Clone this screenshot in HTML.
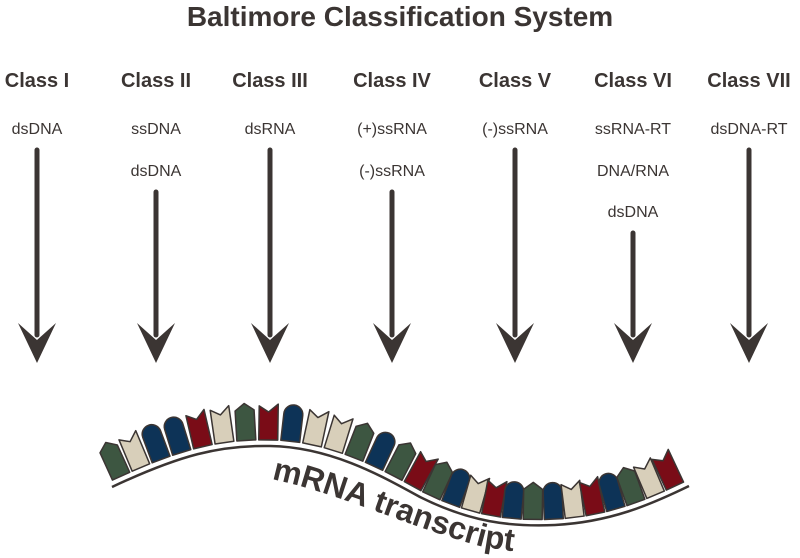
<!DOCTYPE html>
<html><head><meta charset="utf-8"><style>
html,body{margin:0;padding:0;background:#fff}
svg{display:block}
text{font-family:"Liberation Sans",Arial,sans-serif;fill:#3b3533}
.t{font-weight:bold;font-size:28px}
.c{font-weight:bold;font-size:20px}
.s{font-size:16px}
</style></head><body>
<svg id="s" width="800" height="558" viewBox="0 0 800 558" xmlns="http://www.w3.org/2000/svg">
<text class="t" x="400" y="26" text-anchor="middle">Baltimore Classification System</text>
<g text-anchor="middle">
<text class="c" x="37" y="87">Class I</text>
<text class="c" x="156" y="87">Class II</text>
<text class="c" x="270" y="87">Class III</text>
<text class="c" x="392" y="87">Class IV</text>
<text class="c" x="515" y="87">Class V</text>
<text class="c" x="633" y="87">Class VI</text>
<text class="c" x="749" y="87">Class VII</text>
<text class="s" x="37" y="134">dsDNA</text>
<text class="s" x="156" y="134">ssDNA</text>
<text class="s" x="156" y="176">dsDNA</text>
<text class="s" x="270" y="134">dsRNA</text>
<text class="s" x="392" y="134">(+)ssRNA</text>
<text class="s" x="392" y="176">(-)ssRNA</text>
<text class="s" x="515" y="134">(-)ssRNA</text>
<text class="s" x="633" y="134">ssRNA-RT</text>
<text class="s" x="633" y="176">DNA/RNA</text>
<text class="s" x="633" y="217">dsDNA</text>
<text class="s" x="749" y="134">dsDNA-RT</text>
</g>
<g id="arrows" fill="#3b3533" stroke="#3b3533"></g>
<g id="nts"></g>
<path id="bb" d="M112,487 C180,455 220,445 270,446 C330,447 380,475 420,497 C470,522 510,527 555,525 C610,522 650,505 689,486" fill="none" stroke="#3b3533" stroke-width="2.5"/>
<path id="tp" d="M180,478 C230,468 270,478 300,486 C360,503 420,530 480,546 C500,550 530,554 560,554" fill="none"/>
<text font-weight="bold" font-size="32"><textPath href="#tp" startOffset="92">mRNA transcript</textPath></text>
</svg>
<script>
var NS="http://www.w3.org/2000/svg";
var ar=document.getElementById('arrows');
[[37,150],[156,192],[270,150],[392,192],[515,150],[633,233],[749,150]].forEach(function(a){
 var x=a[0],y=a[1];
 var l=document.createElementNS(NS,'line');
 l.setAttribute('x1',x);l.setAttribute('x2',x);l.setAttribute('y1',y);l.setAttribute('y2',335);
 l.setAttribute('stroke-width','5');l.setAttribute('stroke-linecap','round');ar.appendChild(l);
 var p=document.createElementNS(NS,'path');
 p.setAttribute('d','M'+(x-19)+',323 L'+x+',340 L'+(x+19)+',323 L'+x+',363 Z');
 p.setAttribute('stroke','none');ar.appendChild(p);
});
var col={g:'#3d5641',b:'#d8cfba',n:'#0d3357',r:'#7a0c17'};
var seq='g b n n r b g r n b b g n g r g n b r n g n b r n g b r'.split(' ');
var bb=document.getElementById('bb'),L=bb.getTotalLength(),g=document.getElementById('nts');
var step=(L-4)/seq.length;
seq.forEach(function(c,i){
 var d=2+step*(i+0.5);
 var p=bb.getPointAtLength(d),p2=bb.getPointAtLength(Math.min(L,d+1)),p1=bb.getPointAtLength(Math.max(0,d-1));
 var ang=Math.atan2(p2.y-p1.y,p2.x-p1.x)*180/Math.PI;
 var sh;
 if(c=='n') sh='M-9.5,-6 L-9.5,-33 A9.5,9.5 0 0 1 9.5,-33 L9.5,-6 Z';
 else if(c=='g') sh='M-9.5,-6 L-9.5,-36 L0,-43 L9.5,-36 L9.5,-6 Z';
 else sh='M-9.5,-6 L-9.5,-40 L0,-34 L9.5,-42 L9.5,-6 Z';
 var e=document.createElementNS(NS,'path');
 e.setAttribute('d',sh);e.setAttribute('fill',col[c]);e.setAttribute('stroke','#3b3533');e.setAttribute('stroke-width','1.5');e.setAttribute('stroke-linejoin','round');
 e.setAttribute('transform','translate('+p.x+','+p.y+') rotate('+ang+')');
 g.appendChild(e);
});
</script>
</body></html>
